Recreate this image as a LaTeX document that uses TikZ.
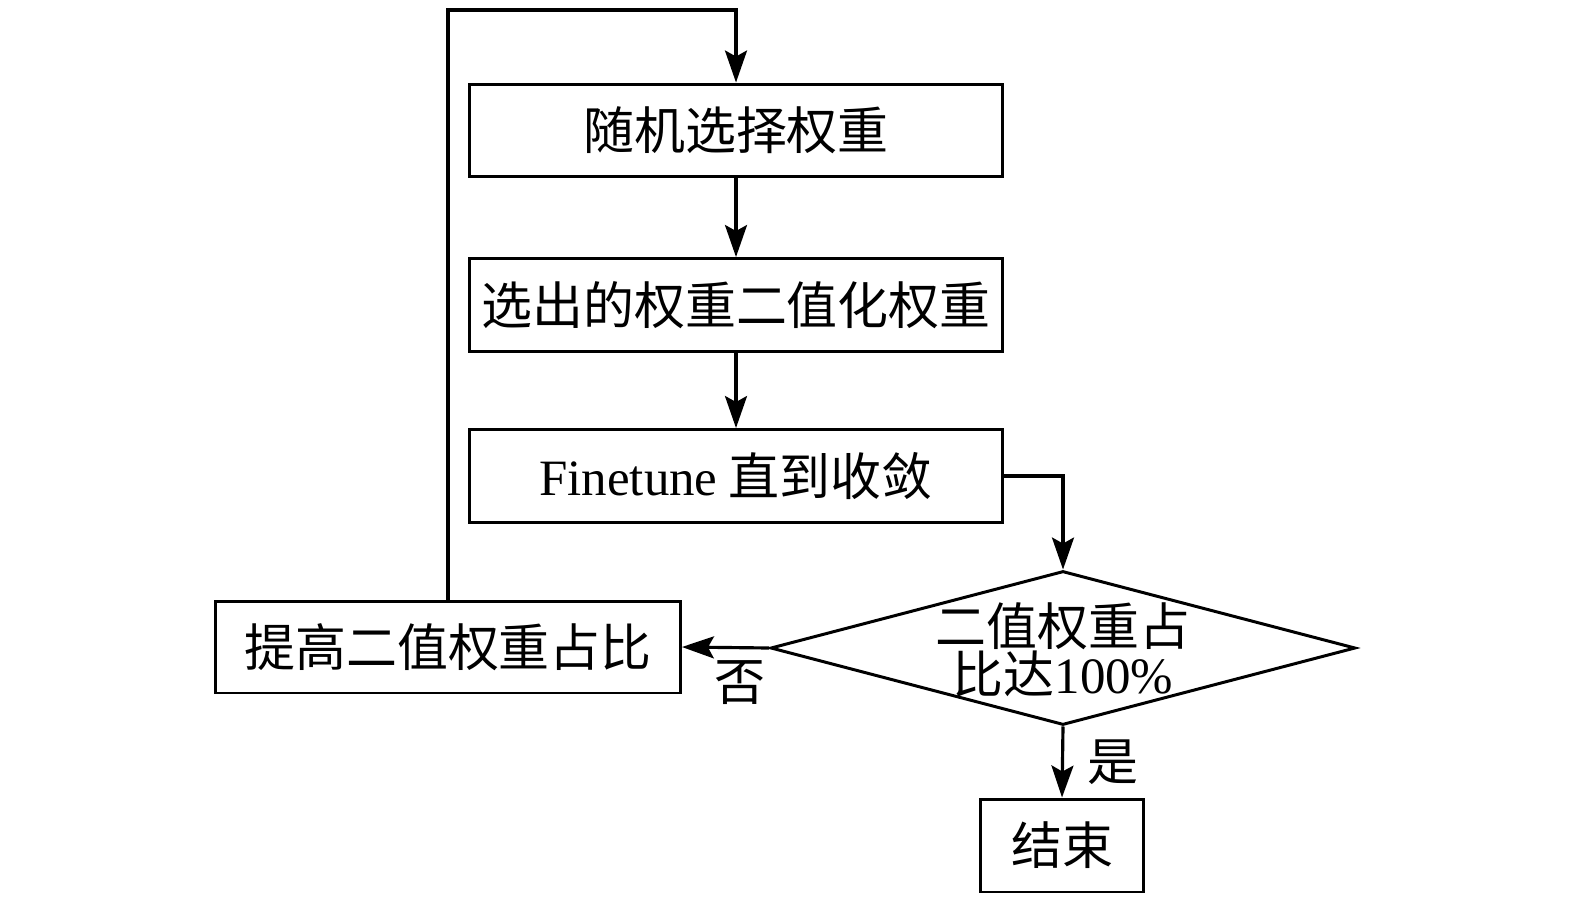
\documentclass[tikz,border=0pt]{standalone}
\usepackage{fontspec}
\setmainfont{Liberation Serif}
\newfontfamily\cjk{Noto Sans CJK SC}
\usetikzlibrary{arrows.meta,shapes.geometric}
\tikzset{
  box/.style={draw, line width=1.7pt, minimum width=10.68cm, minimum height=1.86cm, inner sep=0pt},
  cond/.style={draw, diamond, line width=1.7pt, minimum width=11.7cm, minimum height=3.08cm, inner sep=0pt},
  flow/.style={line width=1.8pt, -{Stealth[length=0.64cm, width=0.44cm, inset=0.12cm]}},
  txt/.style={font=\fontsize{29}{29}\selectfont\cjk}
}
\begin{document}
\begin{tikzpicture}[x=0.02cm, y=-0.02cm, txt]
\useasboundingbox (0,0) rectangle (1575,906);
\node[box] (pick) at (736,130.5) {随机选择权重};
\node[box] (bin) at (736,305) {选出的权重二值化权重};
\node[box] (tune) at (736,476) {{\rmfamily Finetune} 直到收敛};
\node[cond] (chk) at (1063,648) {};
\node[align=center, font=\fontsize{29}{27}\selectfont\cjk] (chktxt) at (1063,650) {二值权重占\\比达{\rmfamily 100\%}};
\node[box, minimum width=9.3cm, minimum height=1.84cm] (raise) at (448,647) {提高二值权重占比};
\node[box, minimum width=3.26cm] (done) at (1062,845.5) {结束};
\coordinate (top) at (448,10);
\draw[flow] (pick) -- (bin);
\draw[flow] (bin) -- (tune);
\draw[flow] (tune.east) -| (chk.north);
\draw[flow] (chk.west) -- (raise.east) node[pos=0.33, below=3pt] {否};
\draw[flow] (chk.south) -- (done.north) node[midway, right=10pt] {是};
\draw[flow] (raise.north) -- (top) -| (pick.north);
\end{tikzpicture}
\end{document}
